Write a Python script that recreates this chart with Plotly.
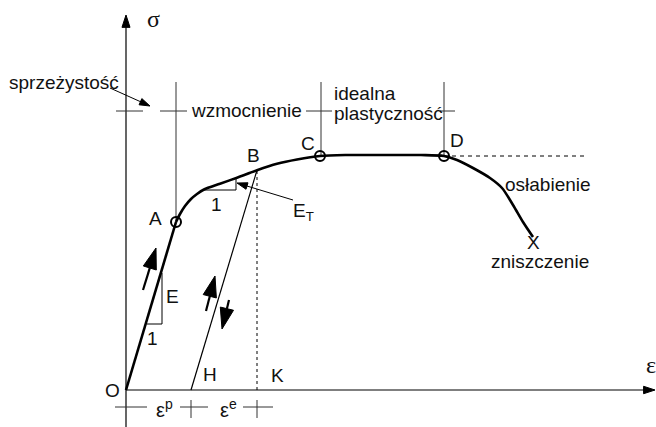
import plotly.graph_objects as go

# ---- diagram data (strain eps, stress sigma; arbitrary units) ----
curve_eps_elastic = [0.0, 0.50]
curve_sig_elastic = [0.0, 1.68]
curve_eps = [0.50, 0.54, 0.59, 0.65, 0.71, 0.78, 0.94, 1.11, 1.31, 1.51, 1.71, 1.94, 2.20, 2.60, 2.95, 3.18, 3.31, 3.47, 3.64, 3.76, 3.87, 3.97, 4.07]
curve_sig = [1.68, 1.76, 1.84, 1.91, 1.96, 2.005, 2.063, 2.123, 2.198, 2.262, 2.305, 2.34, 2.35, 2.35, 2.35, 2.34, 2.30, 2.22, 2.12, 2.02, 1.85, 1.68, 1.53]

marker_names = ["A", "C", "D"]
marker_eps = [0.50, 1.94, 3.18]
marker_sig = [1.68, 2.34, 2.34]

eps_B, sig_B = 1.31, 2.198
eps_H = 0.65
eps_K = 1.31
eps_dash_end = 4.62
guide_top = 3.08
bracket_sig = 2.79
bottom_sig = -0.17

FONT = "Liberation Sans, Arial, sans-serif"
SERIF = "Liberation Serif, Times New Roman, serif"
TXT = "#111111"

fig = go.Figure()

def line(x, y, width=1.0, dash="solid", color="black", shape="linear"):
    fig.add_trace(go.Scatter(x=x, y=y, mode="lines", hoverinfo="skip",
                             line=dict(color=color, width=width, dash=dash, shape=shape, smoothing=0.8)))

def arrow(x, y, size=22, width=2.0):
    fig.add_trace(go.Scatter(x=x, y=y, mode="lines+markers", hoverinfo="skip",
                             line=dict(color="black", width=width),
                             marker=dict(symbol="arrow", size=[0, size], angleref="previous",
                                         color="black", opacity=1,
                                         line=dict(width=1, color="black"))))

# axes
arrow([0, 0], [-0.37, 3.75], size=13, width=1.2)
arrow([0, 5.29], [0, 0], size=12, width=1.2)

# guide verticals and bracket ticks
line([0.50, 0.50], [guide_top, 1.68], 1.0, color="#333")
line([1.95, 1.95], [guide_top, 2.34], 1.0, color="#333")
line([3.18, 3.18], [guide_top, 2.34], 1.0, color="#333")
for seg in ([-0.10, 0.17], [0.34, 0.61], [1.80, 2.06], [3.14, 3.29]):
    line(seg, [bracket_sig, bracket_sig], 1.0, color="#333")

# bottom ticks
for seg in ([-0.11, 0.21], [0.54, 0.82], [1.17, 1.47]):
    line(seg, [bottom_sig, bottom_sig], 1.0, color="#333")
for xv in (eps_H, eps_K):
    line([xv, xv], [-0.10, -0.28], 1.0, color="#333")

# dashed lines
line([eps_K, eps_K], [0, sig_B], 1.0, dash="3px,3px")
line([3.18, eps_dash_end], [2.34, 2.34], 1.0, dash="4px,4px")

# unloading line B-H
line([eps_H, eps_B], [0, sig_B], 1.2)

# slope triangles
line([0.21, 0.36, 0.36], [0.66, 0.66, 1.17], 1.0)
line([0.78, 1.10, 1.10], [2.00, 2.00, 2.11], 1.0)

# main curve
line(curve_eps_elastic, curve_sig_elastic, 2.6)
line(curve_eps, curve_sig, 2.6, shape="spline")

# point markers
fig.add_trace(go.Scatter(x=marker_eps, y=marker_sig, mode="markers", hoverinfo="skip",
                         marker=dict(symbol="circle-open", size=10, color="black", line=dict(width=2))))

# direction arrows
arrow([0.17, 0.30], [1.00, 1.42], size=22, width=2.2)
arrow([0.80, 0.89], [0.79, 1.14], size=22, width=2.2)
arrow([1.03, 0.96], [0.90, 0.61], size=22, width=2.2)
arrow([1.67, 1.11], [1.90, 2.07], size=11, width=1.0)
arrow([-0.16, 0.24], [3.02, 2.84], size=11, width=1.0)

labels = [
    ("σ", 0.27, 3.71, SERIF, 24, "center"),
    ("ε", 5.25, 0.25, SERIF, 24, "center"),
    ("sprzeżystość", -0.62, 3.08, FONT, 19, "center"),
    ("wzmocnienie", 1.20, 2.80, FONT, 19, "center"),
    ("idealna", 2.06, 2.97, FONT, 19, "left"),
    ("plastyczność", 2.06, 2.77, FONT, 19, "left"),
    ("A", 0.29, 1.72, FONT, 19, "center"),
    ("B", 1.27, 2.35, FONT, 19, "center"),
    ("C", 1.82, 2.47, FONT, 19, "center"),
    ("D", 3.31, 2.50, FONT, 19, "center"),
    ("1", 0.90, 1.86, FONT, 19, "center"),
    ("E<sub>T</sub>", 1.77, 1.78, FONT, 19, "center"),
    ("E", 0.46, 0.94, FONT, 19, "center"),
    ("1", 0.26, 0.52, FONT, 19, "center"),
    ("O", -0.14, 0.0, FONT, 19, "center"),
    ("H", 0.84, 0.16, FONT, 19, "center"),
    ("K", 1.51, 0.15, FONT, 19, "center"),
    ("ε<sup>p</sup>", 0.38, -0.18, FONT, 20, "center"),
    ("ε<sup>e</sup>", 1.02, -0.18, FONT, 20, "center"),
    ("osłabienie", 4.22, 2.06, FONT, 19, "center"),
    ("X", 4.07, 1.48, FONT, 19, "center"),
    ("zniszczenie", 4.14, 1.29, FONT, 19, "center"),
]
for t, x, y, fam, sz, anc in labels:
    fig.add_annotation(x=x, y=y, text=t, showarrow=False, xanchor=anc, yanchor="middle",
                       font=dict(family=fam, size=sz, color=TXT))

fig.update_layout(
    width=656, height=427, margin=dict(l=0, r=0, t=0, b=0),
    paper_bgcolor="white", plot_bgcolor="white", showlegend=False,
    xaxis=dict(range=[-1.26, 5.30], visible=False, fixedrange=True),
    yaxis=dict(range=[-0.37, 3.90], visible=False, fixedrange=True),
)
fig.write_html("out.html", config={"displayModeBar": False},
               post_script="document.body.style.margin='0px';document.body.style.padding='0px';")
